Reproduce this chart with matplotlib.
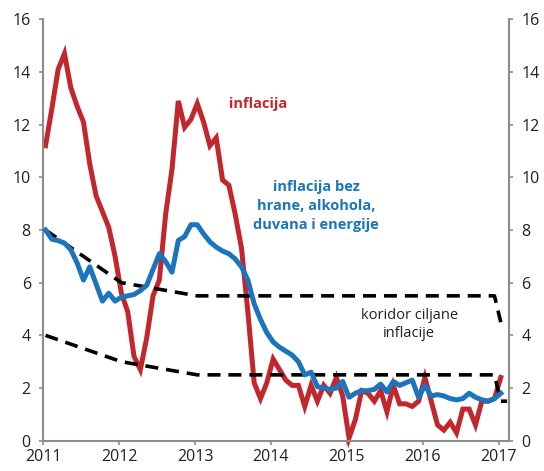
import matplotlib
matplotlib.use("Agg")
import matplotlib.pyplot as plt
import numpy as np

plt.rcParams['font.family'] = ['Open Sans', 'DejaVu Sans']

# mjesecni podaci, januar 2011 - januar 2017
inflacija = [11.2, 12.6, 14.1, 14.7, 13.4, 12.7, 12.1, 10.5, 9.3, 8.7, 8.1, 7.0,
             5.6, 4.9, 3.2, 2.7, 3.9, 5.5, 6.1, 8.6, 10.3, 12.9, 11.9, 12.2,
             12.8, 12.1, 11.2, 11.5, 9.9, 9.7, 8.6, 7.3, 4.9, 2.2, 1.6, 2.2,
             3.1, 2.7, 2.3, 2.1, 2.1, 1.3, 2.1, 1.5, 2.1, 1.8, 2.4, 1.7,
             0.1, 0.8, 1.9, 1.8, 1.5, 1.9, 1.1, 2.1, 1.4, 1.4, 1.3, 1.5,
             2.4, 1.5, 0.6, 0.4, 0.7, 0.3, 1.2, 1.2, 0.6, 1.5, 1.5, 1.6,
             2.4]

bazna = [8.0, 7.65, 7.6, 7.5, 7.25, 6.75, 6.1, 6.6, 5.95, 5.3, 5.6, 5.3,
         5.45, 5.5, 5.55, 5.7, 5.9, 6.5, 7.1, 6.8, 6.4, 7.6, 7.75, 8.2,
         8.2, 7.85, 7.55, 7.35, 7.2, 7.1, 6.9, 6.6, 6.1, 5.2, 4.6, 4.1,
         3.75, 3.55, 3.4, 3.25, 3.0, 2.5, 2.6, 2.05, 2.0, 1.95, 2.0, 2.25,
         1.65, 1.8, 1.9, 1.9, 1.95, 2.15, 1.85, 2.25, 2.1, 2.2, 2.3, 1.65,
         2.1, 1.7, 1.75, 1.7, 1.6, 1.55, 1.6, 1.8, 1.65, 1.55, 1.5, 1.6,
         1.8]

# koridor ciljane inflacije (prelomne tacke)
kor_mes_gornji = [0, 12, 24, 71, 72]
kor_gornji = [8.0, 6.0, 5.5, 5.5, 4.5]
kor_mes_donji = [0, 12, 24, 71, 72, 73]
kor_donji = [4.0, 3.0, 2.5, 2.5, 1.5, 1.5]

godine = ['2011', '2012', '2013', '2014', '2015', '2016', '2017']

crvena = '#C1272D'
plava = '#1B75BC'
siva = '#8C8C8C'

fig = plt.figure(figsize=(5.44, 4.71), dpi=100)
ax = fig.add_axes([43.3/544, 30.3/471, (509-43.3)/544, (440.7-19.3)/471])

mes = np.arange(len(inflacija))
ax.plot(kor_mes_gornji, kor_gornji, color='black', lw=2.6, dashes=(3.6, 2.2), zorder=3, clip_on=False)
ax.plot(kor_mes_donji, kor_donji, color='black', lw=2.6, dashes=(3.6, 2.2), zorder=3, clip_on=False)
ax.plot(mes, inflacija, color=crvena, lw=3.6, zorder=2, clip_on=False, solid_joinstyle='miter')
ax.plot(mes, bazna, color=plava, lw=3.6, zorder=4, clip_on=False)

ax.set_xlim(-0.35, 73.3)
ax.set_ylim(0, 16)
ax.set_xticks([-0.35 + 12*k for k in range(len(godine))])
ax.set_xticklabels(godine)
ax.set_yticks(range(0, 17, 2))

for s in ['top']:
    ax.spines[s].set_visible(False)
for s in ['left', 'right', 'bottom']:
    ax.spines[s].set_color(siva)
    ax.spines[s].set_linewidth(1.5)

ax.tick_params(axis='both', direction='out', length=3, width=1.2, color=siva,
               labelsize=11.5, labelcolor='#231F20')
ax.tick_params(axis='y', left=True, right=True, labelleft=True, labelright=True, pad=6)
ax.tick_params(axis='x', pad=3)

ax.text(33.6, 12.8, 'inflacija', color=crvena, fontsize=10.5, fontweight='bold',
        ha='center', va='center')
ax.text(42.8, 8.9, 'inflacija bez\nhrane, alkohola,\nduvana i energije', color=plava,
        fontsize=10.5, fontweight='bold', ha='center', va='center', linespacing=1.45)
ax.text(57.5, 4.4, 'koridor ciljane\ninflacije', color='#231F20', fontsize=10.5,
        ha='center', va='center', linespacing=1.3)

fig.savefig('out.png', dpi=100)
